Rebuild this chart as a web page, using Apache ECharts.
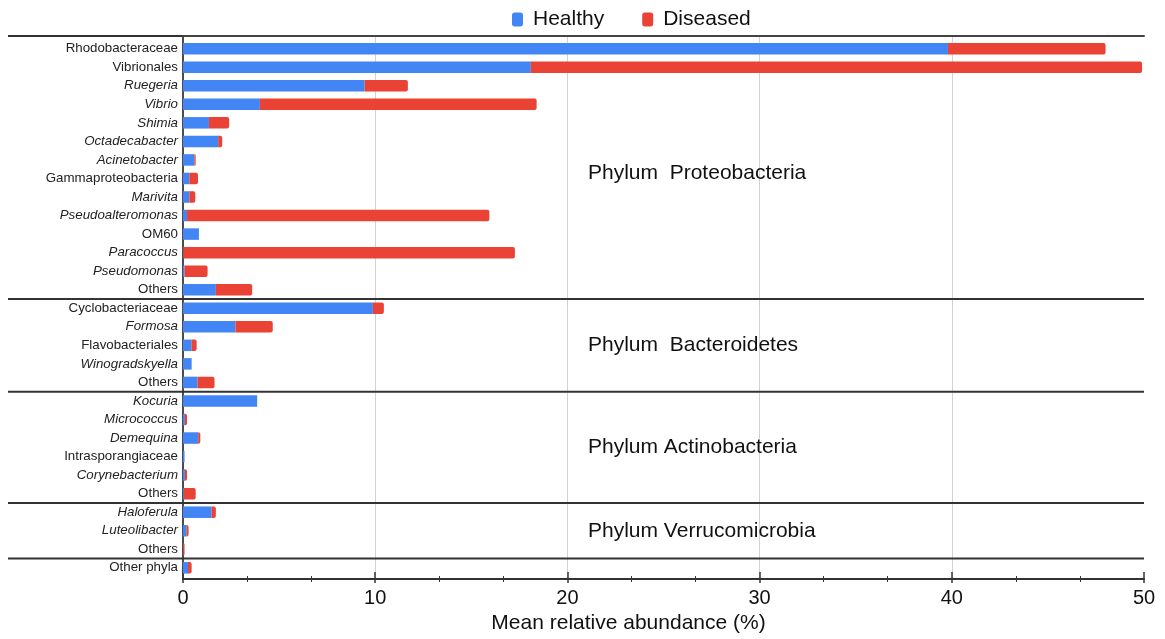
<!DOCTYPE html>
<html><head><meta charset="utf-8">
<script src="https://cdn.jsdelivr.net/npm/echarts@6/dist/echarts.min.js"></script>
<style>html,body{margin:0;padding:0;background:#fff}#c{width:1165px;height:639px}</style>
</head><body><div id="c"></div>
<script>
const categories = ['Rhodobacteraceae','Vibrionales','Ruegeria','Vibrio','Shimia','Octadecabacter','Acinetobacter','Gammaproteobacteria','Marivita','Pseudoalteromonas','OM60','Paracoccus','Pseudomonas','Others',
  'Cyclobacteriaceae','Formosa','Flavobacteriales','Winogradskyella','Others',
  'Kocuria','Micrococcus','Demequina','Intrasporangiaceae','Corynebacterium','Others',
  'Haloferula','Luteolibacter','Others',
  'Other phyla'];
const italicNames = ['Ruegeria','Vibrio','Shimia','Octadecabacter','Acinetobacter','Marivita','Pseudoalteromonas','Paracoccus','Pseudomonas','Formosa','Winogradskyella','Kocuria','Micrococcus','Demequina','Corynebacterium','Haloferula','Luteolibacter'];
const healthy  = [39.8, 18.1, 9.45, 4.0, 1.35, 1.83, 0.59, 0.33, 0.33, 0.21, 0.83, 0.02, 0.08, 1.71,
  9.88, 2.73, 0.45, 0.45, 0.76,
  3.86, 0.10, 0.79, 0.08, 0.10, 0.05,
  1.49, 0.19, 0.02,
  0.26];
const diseased = [8.2, 31.8, 2.25, 14.4, 1.05, 0.21, 0.07, 0.45, 0.31, 15.73, 0, 17.25, 1.2, 1.89,
  0.57, 1.94, 0.26, 0, 0.88,
  0, 0.11, 0.11, 0, 0.11, 0.61,
  0.22, 0.10, 0.06,
  0.19];
const phylumLabels = ['Phylum  Proteobacteria','Phylum  Bacteroidetes','Phylum Actinobacteria','Phylum Verrucomicrobia'];
const groupRanges = [[0,13],[14,18],[19,24],[25,27]];

const L = 183, R = 21, FT = 36, FB = 60, BT = 39.4, BB = 61.9;
const FONT = '"Liberation Sans", Arial, sans-serif';
const chart = echarts.init(document.getElementById('c'));

const option = {
  animation: false,
  textStyle: {fontFamily: FONT},
  legend: {
    left: 507, top: 4, icon: 'roundRect', itemWidth: 11, itemHeight: 14, itemGap: 38,
    data: ['Healthy', 'Diseased'],
    textStyle: {fontSize: 21, color: '#111', padding: [0, 0, 0, 5], fontFamily: FONT}
  },
  grid: [
    {left: L, right: R, top: FT, bottom: FB},
    {left: L, right: R, top: BT, bottom: BB}
  ],
  xAxis: [
    {gridIndex: 0, type: 'value', min: 0, max: 50, interval: 10, position: 'bottom',
      axisLine: {show: true, lineStyle: {color: '#333', width: 2}},
      axisTick: {show: true, length: 4, lineStyle: {color: '#333', width: 1.5}},
      minorTick: {show: true, splitNumber: 3, length: 3, lineStyle: {color: '#333', width: 1}},
      axisLabel: {fontSize: 20, color: '#111', margin: 9, fontFamily: FONT},
      splitLine: {show: true, showMinLine: false, showMaxLine: false, lineStyle: {color: '#d2d2d2', width: 1}},
      name: 'Mean relative abundance (%)', nameLocation: 'middle', nameGap: 33,
      nameTextStyle: {fontSize: 21, color: '#111', fontFamily: FONT, padding: [0, 70, 0, 0]}
    },
    {gridIndex: 0, type: 'value', min: 0, max: 50, interval: 10, position: 'bottom',
      axisLine: {show: false},
      axisTick: {show: true, inside: true, length: 7, lineStyle: {color: '#333', width: 1.5}},
      minorTick: {show: true, splitNumber: 3, length: 3, lineStyle: {color: '#333', width: 1}},
      axisLabel: {show: false}, splitLine: {show: false}
    },
    {gridIndex: 0, type: 'value', min: 0, max: 50, position: 'top',
      axisLine: {show: true, lineStyle: {color: '#444', width: 2}},
      axisTick: {show: false}, axisLabel: {show: false}, splitLine: {show: false}
    },
    {gridIndex: 1, type: 'value', min: 0, max: 50, show: false}
  ],
  yAxis: [
    {gridIndex: 0, type: 'value', min: 0, max: 1, position: 'left',
      axisLine: {show: true, lineStyle: {color: '#333', width: 1.5}},
      axisTick: {show: false}, axisLabel: {show: false}, splitLine: {show: false}},
    {gridIndex: 0, type: 'value', min: 0, max: 1, position: 'right',
      axisLine: {show: true, lineStyle: {color: '#444', width: 1.5}},
      axisTick: {show: false}, axisLabel: {show: false}, splitLine: {show: false}},
    {gridIndex: 1, type: 'category', inverse: true, data: categories,
      axisLine: {show: false}, axisTick: {show: false}, splitLine: {show: false},
      axisLabel: {
        interval: 0, margin: 5,
        formatter: function (v, idx) {
          const name = categories[idx];
          return italicNames.indexOf(name) >= 0 ? '{i|' + name + '}' : '{n|' + name + '}';
        },
        rich: {
          n: {fontSize: 13.3, color: '#222', fontFamily: FONT},
          i: {fontSize: 13.3, color: '#222', fontStyle: 'italic', fontFamily: FONT}
        }
      }
    }
  ],
  series: [
    {name: 'Healthy', type: 'bar', stack: 'ab', xAxisIndex: 3, yAxisIndex: 2, data: healthy,
      barWidth: 11.5, itemStyle: {color: '#4285F4'}},
    {name: 'Diseased', type: 'bar', stack: 'ab', xAxisIndex: 3, yAxisIndex: 2, data: diseased,
      barWidth: 11.5, itemStyle: {color: '#EA4335', borderRadius: [0, 2, 2, 0]}}
  ]
};
chart.setOption(option);

// decorations derived from the category scale
const W = 1165;
const labelShift = [4, 0, 0, 0];
const rowY = i => chart.convertToPixel({yAxisIndex: 2}, i);
const graphics = [];
const lineStyle = {stroke: '#333', lineWidth: 2};
graphics.push({type: 'line', shape: {x1: 8, y1: FT, x2: L, y2: FT}, style: lineStyle, silent: true});
groupRanges.forEach((g, k) => {
  const y = (rowY(g[1]) + rowY(g[1] + 1)) / 2;
  graphics.push({type: 'line', shape: {x1: 8, y1: y, x2: W - R, y2: y}, style: lineStyle, silent: true, z: 10});
  const cy = (rowY(g[0]) + rowY(g[1])) / 2 + labelShift[k];
  graphics.push({type: 'text', x: 588, y: cy, style: {text: phylumLabels[k], fontSize: 21, fill: '#111',
    fontFamily: FONT, verticalAlign: 'middle', align: 'left'}, silent: true, z: 10});
});
chart.setOption({graphic: graphics});
</script>
</body></html>
